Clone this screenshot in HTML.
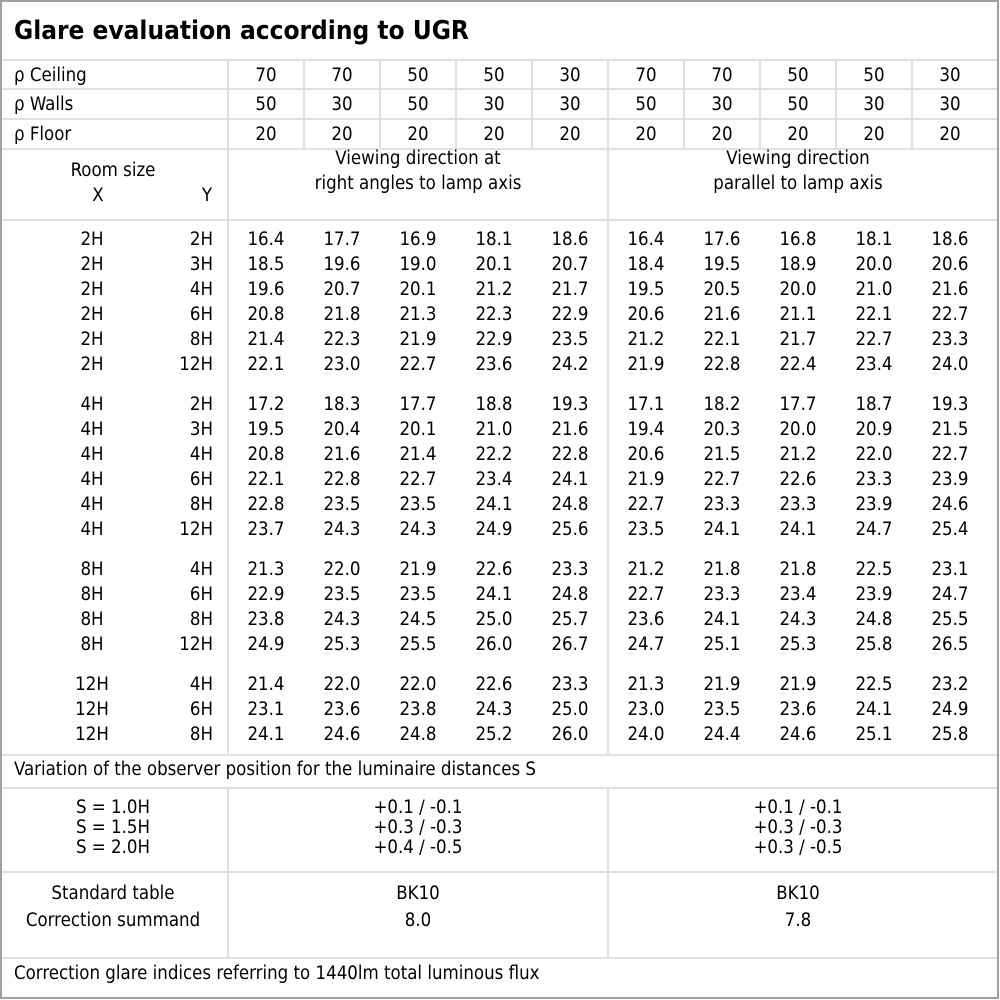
<!DOCTYPE html>
<html><head><meta charset="utf-8"><style>
html,body{margin:0;padding:0;background:#fff}
svg{display:block}
text{font-family:"DejaVu Sans Condensed","Liberation Sans",sans-serif;font-size:18.5px;fill:#000}
.t{font-family:"DejaVu Sans Condensed","Liberation Sans",sans-serif;font-weight:bold;font-size:26px}
.c{text-anchor:middle}.r{text-anchor:end}
</style></head><body>
<svg width="1000" height="1000" viewBox="0 0 1000 1000" xmlns="http://www.w3.org/2000/svg">
<rect x="1" y="1" width="997" height="997" fill="#fff" stroke="#a0a0a0" stroke-width="2"/>
<g stroke="#e0e0e0" stroke-width="2">
<line x1="2" y1="60" x2="997" y2="60"/><line x1="2" y1="89" x2="997" y2="89"/><line x1="2" y1="119" x2="997" y2="119"/><line x1="2" y1="149" x2="997" y2="149"/><line x1="2" y1="220" x2="997" y2="220"/><line x1="2" y1="755" x2="997" y2="755"/><line x1="2" y1="788" x2="997" y2="788"/><line x1="2" y1="872" x2="997" y2="872"/><line x1="2" y1="958" x2="997" y2="958"/>
<line x1="228" y1="60" x2="228" y2="755"/><line x1="228" y1="788" x2="228" y2="958"/>
<line x1="608" y1="60" x2="608" y2="755"/><line x1="608" y1="788" x2="608" y2="958"/>
<line x1="304" y1="60" x2="304" y2="149"/><line x1="380" y1="60" x2="380" y2="149"/><line x1="456" y1="60" x2="456" y2="149"/><line x1="532" y1="60" x2="532" y2="149"/><line x1="684" y1="60" x2="684" y2="149"/><line x1="760" y1="60" x2="760" y2="149"/><line x1="836" y1="60" x2="836" y2="149"/><line x1="912" y1="60" x2="912" y2="149"/>
</g>
<text class="t" x="14" y="39">Glare evaluation according to UGR</text>
<text x="14" y="81">ρ Ceiling</text><text x="14" y="110">ρ Walls</text><text x="14" y="140">ρ Floor</text>
<g class="c">
<text x="266" y="81" class="c">70</text><text x="342" y="81" class="c">70</text><text x="418" y="81" class="c">50</text><text x="494" y="81" class="c">50</text><text x="570" y="81" class="c">30</text><text x="646" y="81" class="c">70</text><text x="722" y="81" class="c">70</text><text x="798" y="81" class="c">50</text><text x="874" y="81" class="c">50</text><text x="950" y="81" class="c">30</text>
<text x="266" y="110" class="c">50</text><text x="342" y="110" class="c">30</text><text x="418" y="110" class="c">50</text><text x="494" y="110" class="c">30</text><text x="570" y="110" class="c">30</text><text x="646" y="110" class="c">50</text><text x="722" y="110" class="c">30</text><text x="798" y="110" class="c">50</text><text x="874" y="110" class="c">30</text><text x="950" y="110" class="c">30</text>
<text x="266" y="140" class="c">20</text><text x="342" y="140" class="c">20</text><text x="418" y="140" class="c">20</text><text x="494" y="140" class="c">20</text><text x="570" y="140" class="c">20</text><text x="646" y="140" class="c">20</text><text x="722" y="140" class="c">20</text><text x="798" y="140" class="c">20</text><text x="874" y="140" class="c">20</text><text x="950" y="140" class="c">20</text>
</g>
<text x="113" y="176" class="c">Room size</text><text x="98" y="201" class="c">X</text><text x="207" y="201" class="c">Y</text>
<text x="418" y="164" class="c">Viewing direction at</text><text x="418" y="189" class="c">right angles to lamp axis</text>
<text x="798" y="164" class="c">Viewing direction</text><text x="798" y="189" class="c">parallel to lamp axis</text>

<g id="d">
<text x="92" y="245" class="c">2H</text><text x="213" y="245" class="r">2H</text><text x="266" y="245" class="c">16.4</text><text x="342" y="245" class="c">17.7</text><text x="418" y="245" class="c">16.9</text><text x="494" y="245" class="c">18.1</text><text x="570" y="245" class="c">18.6</text><text x="646" y="245" class="c">16.4</text><text x="722" y="245" class="c">17.6</text><text x="798" y="245" class="c">16.8</text><text x="874" y="245" class="c">18.1</text><text x="950" y="245" class="c">18.6</text>
<text x="92" y="270" class="c">2H</text><text x="213" y="270" class="r">3H</text><text x="266" y="270" class="c">18.5</text><text x="342" y="270" class="c">19.6</text><text x="418" y="270" class="c">19.0</text><text x="494" y="270" class="c">20.1</text><text x="570" y="270" class="c">20.7</text><text x="646" y="270" class="c">18.4</text><text x="722" y="270" class="c">19.5</text><text x="798" y="270" class="c">18.9</text><text x="874" y="270" class="c">20.0</text><text x="950" y="270" class="c">20.6</text>
<text x="92" y="295" class="c">2H</text><text x="213" y="295" class="r">4H</text><text x="266" y="295" class="c">19.6</text><text x="342" y="295" class="c">20.7</text><text x="418" y="295" class="c">20.1</text><text x="494" y="295" class="c">21.2</text><text x="570" y="295" class="c">21.7</text><text x="646" y="295" class="c">19.5</text><text x="722" y="295" class="c">20.5</text><text x="798" y="295" class="c">20.0</text><text x="874" y="295" class="c">21.0</text><text x="950" y="295" class="c">21.6</text>
<text x="92" y="320" class="c">2H</text><text x="213" y="320" class="r">6H</text><text x="266" y="320" class="c">20.8</text><text x="342" y="320" class="c">21.8</text><text x="418" y="320" class="c">21.3</text><text x="494" y="320" class="c">22.3</text><text x="570" y="320" class="c">22.9</text><text x="646" y="320" class="c">20.6</text><text x="722" y="320" class="c">21.6</text><text x="798" y="320" class="c">21.1</text><text x="874" y="320" class="c">22.1</text><text x="950" y="320" class="c">22.7</text>
<text x="92" y="345" class="c">2H</text><text x="213" y="345" class="r">8H</text><text x="266" y="345" class="c">21.4</text><text x="342" y="345" class="c">22.3</text><text x="418" y="345" class="c">21.9</text><text x="494" y="345" class="c">22.9</text><text x="570" y="345" class="c">23.5</text><text x="646" y="345" class="c">21.2</text><text x="722" y="345" class="c">22.1</text><text x="798" y="345" class="c">21.7</text><text x="874" y="345" class="c">22.7</text><text x="950" y="345" class="c">23.3</text>
<text x="92" y="370" class="c">2H</text><text x="213" y="370" class="r">12H</text><text x="266" y="370" class="c">22.1</text><text x="342" y="370" class="c">23.0</text><text x="418" y="370" class="c">22.7</text><text x="494" y="370" class="c">23.6</text><text x="570" y="370" class="c">24.2</text><text x="646" y="370" class="c">21.9</text><text x="722" y="370" class="c">22.8</text><text x="798" y="370" class="c">22.4</text><text x="874" y="370" class="c">23.4</text><text x="950" y="370" class="c">24.0</text>
<text x="92" y="410" class="c">4H</text><text x="213" y="410" class="r">2H</text><text x="266" y="410" class="c">17.2</text><text x="342" y="410" class="c">18.3</text><text x="418" y="410" class="c">17.7</text><text x="494" y="410" class="c">18.8</text><text x="570" y="410" class="c">19.3</text><text x="646" y="410" class="c">17.1</text><text x="722" y="410" class="c">18.2</text><text x="798" y="410" class="c">17.7</text><text x="874" y="410" class="c">18.7</text><text x="950" y="410" class="c">19.3</text>
<text x="92" y="435" class="c">4H</text><text x="213" y="435" class="r">3H</text><text x="266" y="435" class="c">19.5</text><text x="342" y="435" class="c">20.4</text><text x="418" y="435" class="c">20.1</text><text x="494" y="435" class="c">21.0</text><text x="570" y="435" class="c">21.6</text><text x="646" y="435" class="c">19.4</text><text x="722" y="435" class="c">20.3</text><text x="798" y="435" class="c">20.0</text><text x="874" y="435" class="c">20.9</text><text x="950" y="435" class="c">21.5</text>
<text x="92" y="460" class="c">4H</text><text x="213" y="460" class="r">4H</text><text x="266" y="460" class="c">20.8</text><text x="342" y="460" class="c">21.6</text><text x="418" y="460" class="c">21.4</text><text x="494" y="460" class="c">22.2</text><text x="570" y="460" class="c">22.8</text><text x="646" y="460" class="c">20.6</text><text x="722" y="460" class="c">21.5</text><text x="798" y="460" class="c">21.2</text><text x="874" y="460" class="c">22.0</text><text x="950" y="460" class="c">22.7</text>
<text x="92" y="485" class="c">4H</text><text x="213" y="485" class="r">6H</text><text x="266" y="485" class="c">22.1</text><text x="342" y="485" class="c">22.8</text><text x="418" y="485" class="c">22.7</text><text x="494" y="485" class="c">23.4</text><text x="570" y="485" class="c">24.1</text><text x="646" y="485" class="c">21.9</text><text x="722" y="485" class="c">22.7</text><text x="798" y="485" class="c">22.6</text><text x="874" y="485" class="c">23.3</text><text x="950" y="485" class="c">23.9</text>
<text x="92" y="510" class="c">4H</text><text x="213" y="510" class="r">8H</text><text x="266" y="510" class="c">22.8</text><text x="342" y="510" class="c">23.5</text><text x="418" y="510" class="c">23.5</text><text x="494" y="510" class="c">24.1</text><text x="570" y="510" class="c">24.8</text><text x="646" y="510" class="c">22.7</text><text x="722" y="510" class="c">23.3</text><text x="798" y="510" class="c">23.3</text><text x="874" y="510" class="c">23.9</text><text x="950" y="510" class="c">24.6</text>
<text x="92" y="535" class="c">4H</text><text x="213" y="535" class="r">12H</text><text x="266" y="535" class="c">23.7</text><text x="342" y="535" class="c">24.3</text><text x="418" y="535" class="c">24.3</text><text x="494" y="535" class="c">24.9</text><text x="570" y="535" class="c">25.6</text><text x="646" y="535" class="c">23.5</text><text x="722" y="535" class="c">24.1</text><text x="798" y="535" class="c">24.1</text><text x="874" y="535" class="c">24.7</text><text x="950" y="535" class="c">25.4</text>
<text x="92" y="575" class="c">8H</text><text x="213" y="575" class="r">4H</text><text x="266" y="575" class="c">21.3</text><text x="342" y="575" class="c">22.0</text><text x="418" y="575" class="c">21.9</text><text x="494" y="575" class="c">22.6</text><text x="570" y="575" class="c">23.3</text><text x="646" y="575" class="c">21.2</text><text x="722" y="575" class="c">21.8</text><text x="798" y="575" class="c">21.8</text><text x="874" y="575" class="c">22.5</text><text x="950" y="575" class="c">23.1</text>
<text x="92" y="600" class="c">8H</text><text x="213" y="600" class="r">6H</text><text x="266" y="600" class="c">22.9</text><text x="342" y="600" class="c">23.5</text><text x="418" y="600" class="c">23.5</text><text x="494" y="600" class="c">24.1</text><text x="570" y="600" class="c">24.8</text><text x="646" y="600" class="c">22.7</text><text x="722" y="600" class="c">23.3</text><text x="798" y="600" class="c">23.4</text><text x="874" y="600" class="c">23.9</text><text x="950" y="600" class="c">24.7</text>
<text x="92" y="625" class="c">8H</text><text x="213" y="625" class="r">8H</text><text x="266" y="625" class="c">23.8</text><text x="342" y="625" class="c">24.3</text><text x="418" y="625" class="c">24.5</text><text x="494" y="625" class="c">25.0</text><text x="570" y="625" class="c">25.7</text><text x="646" y="625" class="c">23.6</text><text x="722" y="625" class="c">24.1</text><text x="798" y="625" class="c">24.3</text><text x="874" y="625" class="c">24.8</text><text x="950" y="625" class="c">25.5</text>
<text x="92" y="650" class="c">8H</text><text x="213" y="650" class="r">12H</text><text x="266" y="650" class="c">24.9</text><text x="342" y="650" class="c">25.3</text><text x="418" y="650" class="c">25.5</text><text x="494" y="650" class="c">26.0</text><text x="570" y="650" class="c">26.7</text><text x="646" y="650" class="c">24.7</text><text x="722" y="650" class="c">25.1</text><text x="798" y="650" class="c">25.3</text><text x="874" y="650" class="c">25.8</text><text x="950" y="650" class="c">26.5</text>
<text x="92" y="690" class="c">12H</text><text x="213" y="690" class="r">4H</text><text x="266" y="690" class="c">21.4</text><text x="342" y="690" class="c">22.0</text><text x="418" y="690" class="c">22.0</text><text x="494" y="690" class="c">22.6</text><text x="570" y="690" class="c">23.3</text><text x="646" y="690" class="c">21.3</text><text x="722" y="690" class="c">21.9</text><text x="798" y="690" class="c">21.9</text><text x="874" y="690" class="c">22.5</text><text x="950" y="690" class="c">23.2</text>
<text x="92" y="715" class="c">12H</text><text x="213" y="715" class="r">6H</text><text x="266" y="715" class="c">23.1</text><text x="342" y="715" class="c">23.6</text><text x="418" y="715" class="c">23.8</text><text x="494" y="715" class="c">24.3</text><text x="570" y="715" class="c">25.0</text><text x="646" y="715" class="c">23.0</text><text x="722" y="715" class="c">23.5</text><text x="798" y="715" class="c">23.6</text><text x="874" y="715" class="c">24.1</text><text x="950" y="715" class="c">24.9</text>
<text x="92" y="740" class="c">12H</text><text x="213" y="740" class="r">8H</text><text x="266" y="740" class="c">24.1</text><text x="342" y="740" class="c">24.6</text><text x="418" y="740" class="c">24.8</text><text x="494" y="740" class="c">25.2</text><text x="570" y="740" class="c">26.0</text><text x="646" y="740" class="c">24.0</text><text x="722" y="740" class="c">24.4</text><text x="798" y="740" class="c">24.6</text><text x="874" y="740" class="c">25.1</text><text x="950" y="740" class="c">25.8</text>
</g>
<text x="14" y="775">Variation of the observer position for the luminaire distances S</text>
<text x="113" y="813" class="c">S = 1.0H</text><text x="113" y="833" class="c">S = 1.5H</text><text x="113" y="853" class="c">S = 2.0H</text>
<text x="418" y="813" class="c">+0.1 / -0.1</text><text x="418" y="833" class="c">+0.3 / -0.3</text><text x="418" y="853" class="c">+0.4 / -0.5</text>
<text x="798" y="813" class="c">+0.1 / -0.1</text><text x="798" y="833" class="c">+0.3 / -0.3</text><text x="798" y="853" class="c">+0.3 / -0.5</text>
<text x="113" y="899" class="c">Standard table</text><text x="113" y="926" class="c">Correction summand</text>
<text x="418" y="899" class="c">BK10</text><text x="418" y="926" class="c">8.0</text>
<text x="798" y="899" class="c">BK10</text><text x="798" y="926" class="c">7.8</text>
<text x="14" y="979">Correction glare indices referring to 1440lm total luminous flux</text>
</svg>
</body></html>
